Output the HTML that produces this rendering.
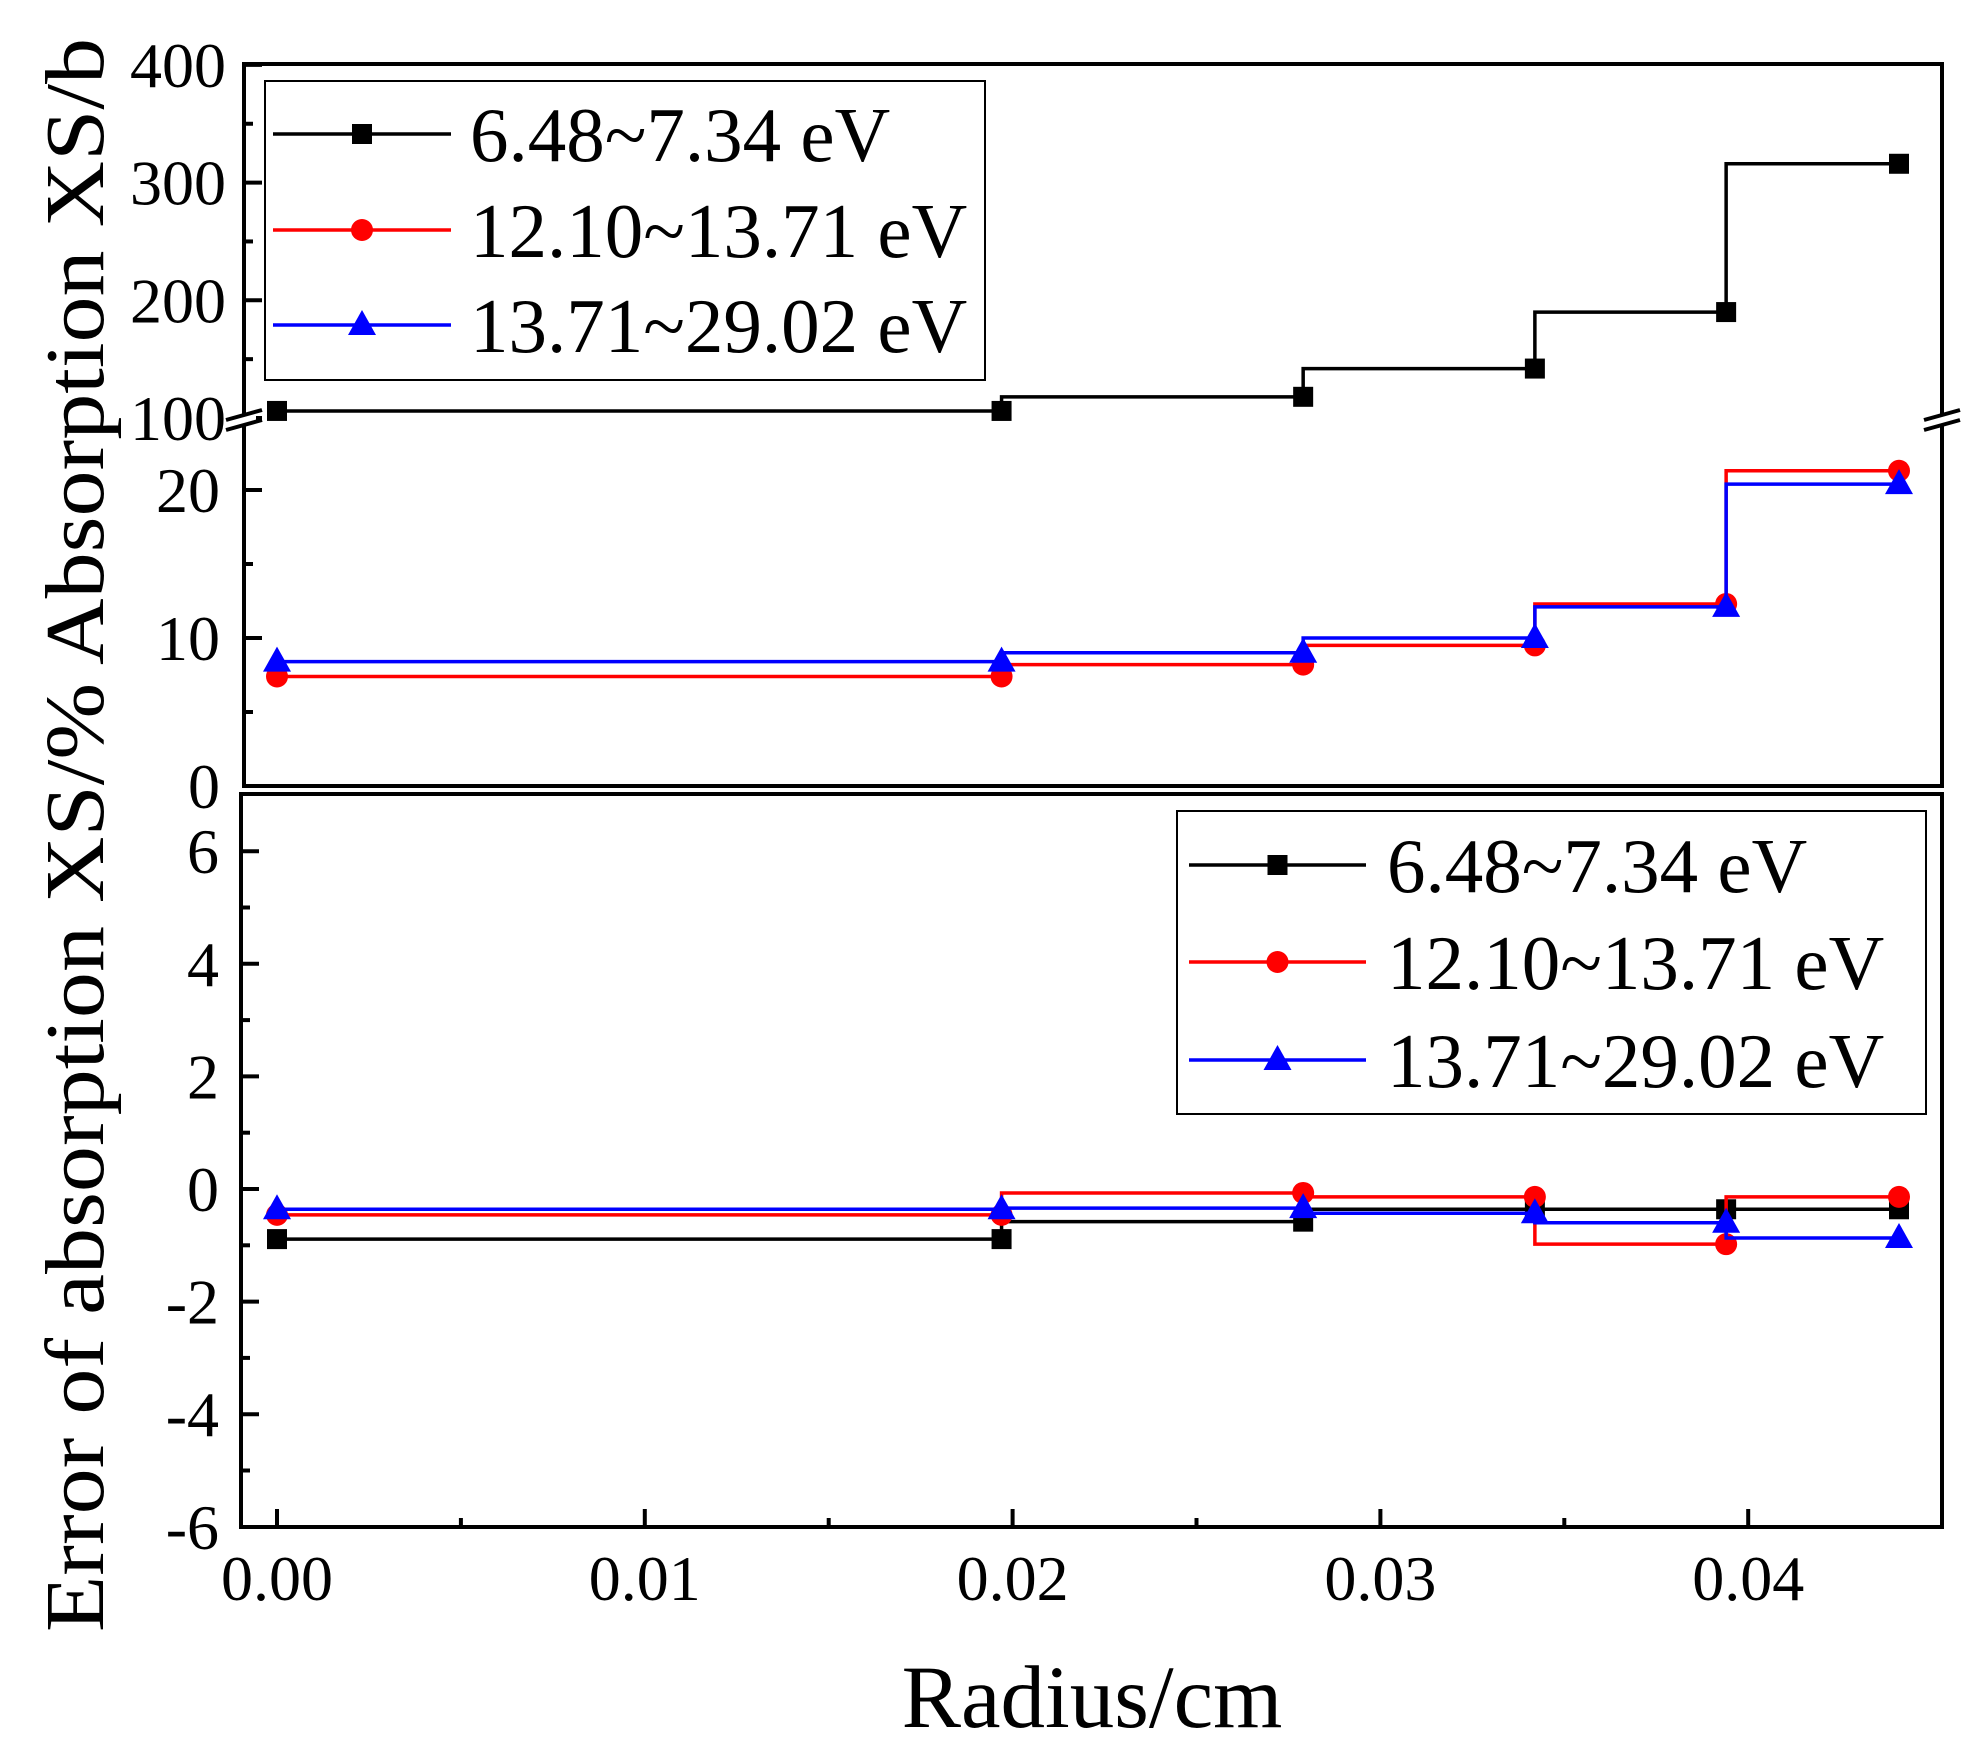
<!DOCTYPE html>
<html><head><meta charset="utf-8"><style>
html,body{margin:0;padding:0;background:#fff;}
svg{display:block;font-family:"Liberation Serif",serif;}
</style></head><body>
<svg id="chart" width="1973" height="1750" viewBox="0 0 1973 1750"></svg>
<script>
const radius = [0, 0.0197, 0.0279, 0.0342, 0.0394, 0.0441];
const seriesNames = ["6.48~7.34 eV", "12.10~13.71 eV", "13.71~29.02 eV"];
const xsBlack = [106, 106, 118, 142, 190, 316];
const xsRed = [7.4, 7.4, 8.2, 9.5, 12.3, 21.3];
const xsBlue = [8.4, 8.4, 9.0, 10.0, 12.1, 20.4];
const errBlack = [-0.89, -0.89, -0.58, -0.36, -0.36, -0.36];
const errRed = [-0.46, -0.46, -0.07, -0.14, -0.98, -0.14];
const errBlue = [-0.36, -0.36, -0.34, -0.43, -0.6, -0.87];
const xTicks = [0, 0.01, 0.02, 0.03, 0.04];
const xTickLabels = ["0.00", "0.01", "0.02", "0.03", "0.04"];
const topHighTicks = [100, 200, 300, 400];
const topLowTicks = [0, 10, 20];
const errTicks = [-6, -4, -2, 0, 2, 4, 6];

const NS = "http://www.w3.org/2000/svg";
const svg = document.getElementById("chart");
function el(tag, attrs, parent) {
  const e = document.createElementNS(NS, tag);
  for (const k in attrs) e.setAttribute(k, attrs[k]);
  (parent || svg).appendChild(e);
  return e;
}
const X = v => 277 + v * 36780;
const YT = v => v >= 100 ? 418 - (v - 100) * 1.177 : 786 - v * 14.8;
const YB = v => 1189 - v * 56.3;
const colors = ["#000", "#f00", "#00f"];

function marker(kind, x, y, c, g) {
  let m;
  if (kind === 0) m = el("rect", {x: x - 10, y: y - 10, width: 20, height: 20, fill: c}, g);
  else if (kind === 1) m = el("circle", {cx: x, cy: y, r: 11, fill: c}, g);
  else m = el("polygon", {points: `${x},${y - 15} ${x - 14},${y + 10} ${x + 14},${y + 10}`, fill: c}, g);
  return m;
}
function series(vals, Y, kind, name) {
  const g = el("g", {});
  
  
  let d = `M${X(radius[0])},${Y(vals[0])}`;
  for (let i = 1; i < vals.length; i++) d += ` L${X(radius[i - 1])},${Y(vals[i])} L${X(radius[i])},${Y(vals[i])}`;
  el("path", {d: d, fill: "none", stroke: colors[kind], "stroke-width": 3.5}, g);
  for (let i = 0; i < vals.length; i++) {
    const m = marker(kind, X(radius[i]), Y(vals[i]), colors[kind], g);
    
    
  }
}
function text(str, x, y, size, anchor, name) {
  const t = el("text", {x: x, y: y, "font-size": size, "text-anchor": anchor || "end", fill: "#000"});
  t.textContent = str;
  
  
  return t;
}

const topFrame = el("rect", {x: 244, y: 64, width: 1698, height: 722, fill: "none", stroke: "#000", "stroke-width": 4});


const botFrame = el("rect", {x: 241, y: 794, width: 1701, height: 733, fill: "none", stroke: "#000", "stroke-width": 4});



for (const v of topHighTicks) {
  el("line", {x1: 244, x2: 262, y1: YT(v), y2: YT(v), stroke: "#000", "stroke-width": 4});
  text(String(v), 226, YT(v) + 22, 64, "end", "top-y-tick-label");
}
for (const v of [150, 250, 350]) el("line", {x1: 244, x2: 253, y1: YT(v), y2: YT(v), stroke: "#000", "stroke-width": 4});
for (const v of topLowTicks) {
  if (v > 0) el("line", {x1: 244, x2: 262, y1: YT(v), y2: YT(v), stroke: "#000", "stroke-width": 4});
  text(String(v), 220, YT(v) + 22, 64, "end", "top-y-tick-label");
}
for (const v of [5, 15]) el("line", {x1: 244, x2: 253, y1: YT(v), y2: YT(v), stroke: "#000", "stroke-width": 4});
for (const bx of [244, 1942]) {
  el("rect", {x: bx - 12, y: 414, width: 24, height: 10, fill: "#fff"});
  el("line", {x1: bx - 18, x2: bx + 18, y1: 420, y2: 410, stroke: "#000", "stroke-width": 4});
  el("line", {x1: bx - 18, x2: bx + 18, y1: 430, y2: 420, stroke: "#000", "stroke-width": 4});
}

for (const v of errTicks) {
  if (v > -6) el("line", {x1: 241, x2: 259, y1: YB(v), y2: YB(v), stroke: "#000", "stroke-width": 4});
  text(String(v), 219, YB(v) + 22, 64, "end", "bottom-y-tick-label");
}
for (const v of [-5, -3, -1, 1, 3, 5]) el("line", {x1: 241, x2: 250, y1: YB(v), y2: YB(v), stroke: "#000", "stroke-width": 4});
xTicks.forEach((v, i) => {
  el("line", {x1: X(v), x2: X(v), y1: 1527, y2: 1509, stroke: "#000", "stroke-width": 4});
  text(xTickLabels[i], X(v), 1600, 64, "middle", "x-tick-label");
});
for (let v = 0.005; v < 0.045; v += 0.01) el("line", {x1: X(v), x2: X(v), y1: 1527, y2: 1518, stroke: "#000", "stroke-width": 4});

series(xsBlack, YT, 0, "xs-series-6.48-7.34");
series(xsRed, YT, 1, "xs-series-12.10-13.71");
series(xsBlue, YT, 2, "xs-series-13.71-29.02");
series(errBlack, YB, 0, "error-series-6.48-7.34");
series(errRed, YB, 1, "error-series-12.10-13.71");
series(errBlue, YB, 2, "error-series-13.71-29.02");

function legend(x, y, w, h, lx1, lx2, tx, rows, name) {
  const g = el("g", {});
  
  
  el("rect", {x: x, y: y, width: w, height: h, fill: "#fff", stroke: "#000", "stroke-width": 2}, g);
  rows.forEach((ry, i) => {
    el("line", {x1: lx1, x2: lx2, y1: ry, y2: ry, stroke: colors[i], "stroke-width": 3.5}, g);
    marker(i, (lx1 + lx2) / 2, ry, colors[i], g);
    const t = el("text", {x: tx, y: ry + 27, "font-size": 77, fill: "#000"}, g);
    t.textContent = seriesNames[i];
    
    
  });
}
legend(265, 81, 720, 299, 273, 451, 470, [134, 230, 325], "top-legend");
legend(1177, 811, 749, 303, 1189, 1366, 1387, [865, 962, 1060], "bottom-legend");

text("Radius/cm", 1092, 1727, 89, "middle", "x-axis-title");
const yt = el("text", {x: 0, y: 0, "font-size": 84, fill: "#000", "text-anchor": "start", textLength: 1594, lengthAdjust: "spacingAndGlyphs", transform: "translate(103,1632) rotate(-90)"});
yt.textContent = "Error of absorption XS/%  Absorption XS/b";


</script>
</body></html>
